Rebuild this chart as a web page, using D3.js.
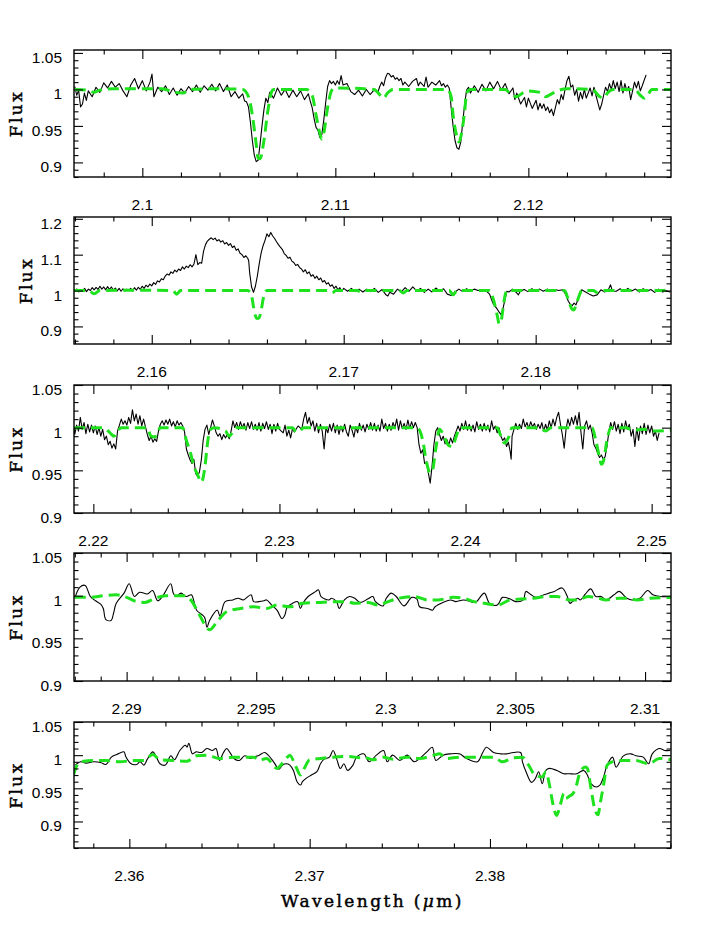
<!DOCTYPE html>
<html>
<head>
<meta charset="utf-8">
<script src="https://cdn.jsdelivr.net/npm/d3@7"></script>
<style>
  body { margin: 0; background: #fff; }
  svg text { font-family: "Liberation Sans", Arial, sans-serif; }
  .ax text { font-size: 15.5px; fill: #000; }
  .ttl { font-family: "DejaVu Serif", "Liberation Serif", serif !important; font-size: 17px; letter-spacing: 2.4px; stroke: #000; stroke-width: 0.45px; }
</style>
</head>
<body>
<svg id="chart" width="708" height="944"></svg>
<script>
// ---- panel 1 : 2.096 - 2.127 micron
const obs1 = [[2.0965,1.004],[2.0966,0.992],[2.0967,0.999],[2.0968,0.976],[2.0969,0.980],[2.0970,0.995],[2.0971,0.985],[2.0972,0.998],[2.0974,0.990],[2.0976,1.003],[2.0978,0.996],[2.0980,1.009],[2.0982,1.002],[2.0984,1.011],[2.0986,1.003],[2.0988,1.008],[2.0990,0.998],[2.0992,0.990],[2.0994,1.006],[2.0996,1.015],[2.0998,1.001],[2.1000,1.012],[2.1002,0.998],[2.1004,1.010],[2.1005,1.021],[2.1006,0.990],[2.1008,1.003],[2.1010,0.997],[2.1012,1.005],[2.1014,0.993],[2.1016,1.002],[2.1018,0.992],[2.1020,1.001],[2.1022,0.995],[2.1024,1.004],[2.1026,0.997],[2.1028,1.006],[2.1030,0.996],[2.1032,1.005],[2.1034,0.999],[2.1036,1.007],[2.1038,0.998],[2.1040,1.008],[2.1042,0.997],[2.1044,1.006],[2.1046,0.990],[2.1048,0.997],[2.1050,0.988],[2.1052,0.994],[2.1053,0.984],[2.1054,0.983],[2.1055,0.976],[2.1056,0.955],[2.1057,0.930],[2.1058,0.910],[2.1059,0.901],[2.1060,0.903],[2.1061,0.925],[2.1062,0.950],[2.1063,0.972],[2.1064,0.988],[2.1065,0.982],[2.1066,0.996],[2.1068,0.988],[2.1070,1.002],[2.1072,0.992],[2.1074,1.000],[2.1076,0.989],[2.1078,0.999],[2.1080,0.990],[2.1082,0.998],[2.1084,0.986],[2.1086,0.994],[2.1087,0.984],[2.1088,0.975],[2.1089,0.960],[2.1090,0.948],[2.1091,0.944],[2.1092,0.934],[2.1093,0.938],[2.1094,0.958],[2.1095,0.982],[2.1096,1.004],[2.1097,1.012],[2.1098,1.008],[2.1099,1.011],[2.1100,1.006],[2.1101,1.012],[2.1102,1.007],[2.1103,1.019],[2.1104,1.006],[2.1106,1.008],[2.1108,0.997],[2.1110,0.993],[2.1112,0.999],[2.1114,0.991],[2.1116,1.000],[2.1118,0.993],[2.1120,0.999],[2.1122,0.996],[2.1123,1.004],[2.1124,1.010],[2.1125,1.005],[2.1126,1.016],[2.1127,1.022],[2.1128,1.021],[2.1129,1.017],[2.1130,1.019],[2.1131,1.014],[2.1132,1.016],[2.1133,1.012],[2.1134,1.015],[2.1135,1.006],[2.1136,1.010],[2.1138,1.004],[2.1140,1.011],[2.1142,1.015],[2.1143,1.005],[2.1144,1.010],[2.1146,1.004],[2.1147,1.017],[2.1148,1.003],[2.1150,1.010],[2.1152,1.006],[2.1154,1.012],[2.1155,1.005],[2.1156,1.008],[2.1157,1.003],[2.1158,1.006],[2.1159,1.002],[2.1160,0.975],[2.1161,0.950],[2.1162,0.930],[2.1163,0.920],[2.1164,0.918],[2.1165,0.928],[2.1166,0.955],[2.1167,0.980],[2.1168,0.999],[2.1169,1.003],[2.1170,0.995],[2.1172,1.005],[2.1174,0.996],[2.1176,1.007],[2.1178,0.998],[2.1180,1.010],[2.1182,1.001],[2.1184,1.011],[2.1186,0.999],[2.1188,1.008],[2.1190,0.994],[2.1192,1.002],[2.1193,0.986],[2.1194,0.995],[2.1196,0.980],[2.1198,0.989],[2.1199,0.976],[2.1200,0.988],[2.1202,0.974],[2.1204,0.985],[2.1205,0.972],[2.1206,0.981],[2.1207,0.974],[2.1208,0.980],[2.1209,0.971],[2.1210,0.976],[2.1211,0.968],[2.1212,0.973],[2.1213,0.964],[2.1214,0.975],[2.1215,0.986],[2.1216,0.980],[2.1217,0.993],[2.1218,0.986],[2.1219,1.000],[2.1220,1.012],[2.1221,1.018],[2.1222,1.003],[2.1223,1.006],[2.1224,0.992],[2.1225,1.000],[2.1226,0.984],[2.1227,0.996],[2.1228,0.987],[2.1229,1.000],[2.1230,0.988],[2.1232,1.002],[2.1233,0.991],[2.1234,1.003],[2.1235,0.992],[2.1236,0.982],[2.1237,0.972],[2.1238,0.980],[2.1239,0.992],[2.1240,1.003],[2.1241,0.997],[2.1242,1.008],[2.1243,1.000],[2.1244,1.012],[2.1245,1.001],[2.1246,1.010],[2.1247,0.997],[2.1248,1.012],[2.1249,0.995],[2.1250,1.008],[2.1251,0.998],[2.1252,1.004],[2.1253,0.986],[2.1254,0.998],[2.1255,1.010],[2.1256,1.002],[2.1257,1.011],[2.1258,0.998],[2.1259,1.005],[2.1261,1.020]];
const model1 = [[2.0965,1.000],[2.0972,0.999],[2.0975,0.996],[2.0978,0.999],[2.0985,1.001],[2.1010,1.001],[2.1017,0.996],[2.1021,0.995],[2.1025,1.000],[2.1040,1.001],[2.1052,1.000],[2.1055,0.990],[2.1057,0.965],[2.1059,0.925],[2.1060,0.906],[2.1061,0.905],[2.1063,0.930],[2.1065,0.970],[2.1067,0.997],[2.1068,1.000],[2.1085,1.000],[2.1088,0.992],[2.1090,0.965],[2.1092,0.940],[2.1093,0.932],[2.1094,0.940],[2.1096,0.975],[2.1098,0.998],[2.1100,1.002],[2.1120,1.000],[2.1124,0.990],[2.1125,0.988],[2.1127,0.995],[2.1130,1.000],[2.1158,1.000],[2.1160,0.990],[2.1161,0.965],[2.1163,0.935],[2.1164,0.928],[2.1165,0.935],[2.1167,0.970],[2.1168,0.995],[2.1170,1.000],[2.1188,1.000],[2.1191,0.993],[2.1194,0.990],[2.1197,0.995],[2.1200,0.998],[2.1206,0.996],[2.1209,0.990],[2.1212,0.994],[2.1216,0.999],[2.1220,1.001],[2.1233,1.000],[2.1237,0.990],[2.1239,0.988],[2.1241,0.995],[2.1244,1.000],[2.1255,1.000],[2.1258,0.992],[2.1260,0.988],[2.1262,0.993],[2.1264,1.000],[2.1274,1.000]];
const xTicks1 = [2.1, 2.11, 2.12];
const yTicks1 = [0.9, 0.95, 1, 1.05];

// ---- panel 2 : 2.156 - 2.187 micron (Br gamma)
const obs2 = [[2.15595,1.000],[2.1561,1.004],[2.1562,0.996],[2.1563,1.003],[2.1564,0.998],[2.1565,1.006],[2.1566,0.997],[2.1567,1.004],[2.1568,1.000],[2.1569,1.008],[2.1570,1.002],[2.1571,1.009],[2.1572,1.003],[2.1573,1.012],[2.1574,1.004],[2.1575,1.010],[2.1576,1.002],[2.1577,1.011],[2.1578,1.003],[2.1579,1.010],[2.1580,1.001],[2.1581,1.007],[2.1582,0.999],[2.1583,1.006],[2.1584,0.998],[2.1585,1.005],[2.1586,0.999],[2.1587,1.004],[2.1588,1.000],[2.1589,1.006],[2.1590,0.999],[2.1591,1.008],[2.1592,1.001],[2.1593,1.009],[2.1594,1.003],[2.1595,1.012],[2.1596,1.006],[2.1597,1.015],[2.1598,1.010],[2.1599,1.018],[2.1600,1.013],[2.1601,1.022],[2.1602,1.017],[2.1603,1.027],[2.1604,1.024],[2.1605,1.033],[2.1606,1.030],[2.1607,1.040],[2.1608,1.046],[2.1609,1.043],[2.1610,1.052],[2.1611,1.048],[2.1612,1.057],[2.1613,1.052],[2.1614,1.060],[2.1615,1.056],[2.1616,1.066],[2.1617,1.060],[2.1618,1.068],[2.1619,1.064],[2.1620,1.072],[2.1621,1.066],[2.1622,1.074],[2.1623,1.100],[2.1624,1.072],[2.1625,1.078],[2.1626,1.076],[2.1627,1.110],[2.1628,1.128],[2.1629,1.138],[2.1630,1.143],[2.1631,1.147],[2.1632,1.142],[2.1633,1.146],[2.1634,1.138],[2.1635,1.142],[2.1636,1.135],[2.1637,1.139],[2.1638,1.130],[2.1639,1.134],[2.1640,1.126],[2.1641,1.131],[2.1642,1.120],[2.1643,1.124],[2.1644,1.112],[2.1645,1.116],[2.1646,1.104],[2.1647,1.100],[2.1648,1.092],[2.1649,1.097],[2.1650,1.090],[2.16505,1.083],[2.1651,1.050],[2.1652,1.010],[2.1653,0.995],[2.1654,1.012],[2.1655,1.040],[2.1656,1.075],[2.1657,1.105],[2.1658,1.125],[2.1659,1.140],[2.1660,1.158],[2.1661,1.150],[2.1662,1.162],[2.1663,1.152],[2.1664,1.145],[2.1665,1.136],[2.1666,1.128],[2.1667,1.121],[2.1668,1.115],[2.1669,1.103],[2.1670,1.098],[2.1671,1.090],[2.1672,1.093],[2.1673,1.082],[2.1674,1.078],[2.1675,1.070],[2.1676,1.073],[2.1677,1.064],[2.1678,1.060],[2.1679,1.052],[2.1680,1.058],[2.1681,1.047],[2.1682,1.052],[2.1683,1.040],[2.1684,1.044],[2.1685,1.034],[2.1686,1.040],[2.1687,1.030],[2.1688,1.035],[2.1689,1.024],[2.1690,1.028],[2.1691,1.018],[2.1692,1.022],[2.1693,1.012],[2.1694,1.016],[2.1695,1.006],[2.1696,1.012],[2.1697,1.002],[2.1698,1.008],[2.1699,0.998],[2.1700,1.006],[2.1702,0.998],[2.1704,1.006],[2.1706,0.997],[2.1708,1.004],[2.1710,0.996],[2.1712,1.004],[2.1714,0.997],[2.1716,1.006],[2.1718,0.995],[2.1720,1.003],[2.1722,0.988],[2.1723,0.985],[2.1724,0.995],[2.1726,0.990],[2.1728,1.004],[2.1730,0.996],[2.1732,1.008],[2.1734,0.998],[2.1736,1.010],[2.1738,0.999],[2.1740,1.006],[2.1742,0.995],[2.1744,1.004],[2.1746,0.996],[2.1748,1.007],[2.1750,0.998],[2.1752,1.005],[2.1754,0.990],[2.1756,0.986],[2.1758,0.996],[2.1760,1.004],[2.1762,0.997],[2.1764,1.005],[2.1766,0.998],[2.1768,1.004],[2.1770,1.000],[2.1772,1.003],[2.1774,1.000],[2.1776,0.990],[2.1777,0.975],[2.1778,0.962],[2.1779,0.955],[2.1780,0.948],[2.1781,0.940],[2.1782,0.933],[2.1783,0.950],[2.1784,0.975],[2.1785,0.998],[2.1786,0.996],[2.1788,1.004],[2.1790,0.994],[2.1791,0.988],[2.1792,0.998],[2.1794,1.003],[2.1796,0.997],[2.1798,1.005],[2.1800,0.999],[2.1802,1.004],[2.1804,0.998],[2.1806,1.004],[2.1808,0.999],[2.1810,1.003],[2.1812,1.000],[2.1814,1.002],[2.1815,0.995],[2.1816,0.985],[2.1817,0.970],[2.1818,0.962],[2.1819,0.958],[2.1820,0.965],[2.1821,0.960],[2.1822,0.975],[2.1823,0.995],[2.1824,1.002],[2.1826,0.996],[2.1828,0.990],[2.1830,0.985],[2.1832,0.988],[2.1834,1.002],[2.1836,0.996],[2.1838,1.004],[2.1839,1.016],[2.1840,0.998],[2.1842,0.998],[2.1844,1.005],[2.1846,0.997],[2.1848,1.006],[2.1850,0.999],[2.1852,1.004],[2.1854,0.996],[2.1856,1.005],[2.1858,0.998],[2.1860,1.003],[2.1862,0.995],[2.1864,1.004],[2.1866,0.996],[2.1868,0.999],[2.1870,0.996]];
const model2 = [[2.15595,1.000],[2.1567,1.000],[2.1570,0.991],[2.1573,1.000],[2.1600,1.001],[2.1611,1.000],[2.1613,0.990],[2.1615,1.000],[2.1650,1.000],[2.1652,0.985],[2.1653,0.955],[2.1654,0.930],[2.1655,0.922],[2.1656,0.925],[2.1657,0.945],[2.1658,0.975],[2.1659,0.995],[2.1660,1.000],[2.1692,1.000],[2.1694,0.994],[2.1696,1.000],[2.1707,1.000],[2.1709,0.996],[2.1711,1.000],[2.1729,1.000],[2.1731,0.993],[2.1733,1.000],[2.1755,1.000],[2.1757,0.988],[2.1759,1.000],[2.1776,1.000],[2.1778,0.975],[2.1780,0.930],[2.1781,0.907],[2.1782,0.915],[2.1783,0.950],[2.1784,0.985],[2.1785,1.000],[2.1815,1.000],[2.1817,0.975],[2.1819,0.948],[2.1820,0.946],[2.1821,0.960],[2.1823,0.990],[2.1824,1.000],[2.1830,1.000],[2.1832,0.995],[2.1834,1.000],[2.1870,1.000]];
const xTicks2 = [2.16, 2.17, 2.18];
const yTicks2 = [0.9, 1, 1.1, 1.2];

// ---- panel 3 : 2.219 - 2.251 micron
const obs3 = [[2.21896,1.000],[2.2190,0.992],[2.2191,1.003],[2.2192,0.996],[2.2193,1.012],[2.2194,0.998],[2.2195,1.006],[2.2196,0.993],[2.2197,1.004],[2.2198,0.995],[2.2199,1.003],[2.2200,0.994],[2.2201,1.002],[2.2202,0.992],[2.2203,1.000],[2.2204,0.990],[2.2205,0.998],[2.2206,0.986],[2.2207,0.990],[2.2208,0.980],[2.2209,0.984],[2.2210,0.976],[2.2211,0.981],[2.2212,0.975],[2.2213,0.996],[2.2214,1.003],[2.2215,1.010],[2.2216,1.004],[2.2217,1.008],[2.2218,1.003],[2.2219,1.012],[2.2220,1.005],[2.2221,1.021],[2.2222,1.008],[2.2223,1.016],[2.2224,1.004],[2.2225,1.014],[2.2226,1.002],[2.2227,1.010],[2.2228,1.001],[2.2229,0.992],[2.2230,0.985],[2.2231,0.990],[2.2232,0.983],[2.2233,0.987],[2.2234,0.984],[2.2235,0.996],[2.2236,1.004],[2.2237,1.008],[2.2238,1.003],[2.2239,1.009],[2.2240,1.004],[2.2241,1.010],[2.2242,1.002],[2.2243,1.007],[2.2244,1.001],[2.2245,1.008],[2.2246,1.003],[2.2247,1.006],[2.2248,1.002],[2.2249,0.995],[2.2250,0.975],[2.2251,0.968],[2.2252,0.962],[2.2253,0.958],[2.2254,0.963],[2.2255,0.946],[2.2256,0.943],[2.2257,0.948],[2.2258,0.962],[2.2259,0.985],[2.2260,0.998],[2.2261,1.003],[2.2262,0.992],[2.2263,1.000],[2.2264,1.009],[2.2265,1.002],[2.2266,0.994],[2.2267,0.990],[2.2268,0.993],[2.2269,0.986],[2.2270,0.992],[2.2271,0.988],[2.2272,0.992],[2.2273,0.987],[2.2274,0.996],[2.2275,1.008],[2.2276,1.000],[2.2277,1.006],[2.2278,0.998],[2.2279,1.007],[2.2280,1.000],[2.2281,1.005],[2.2282,0.997],[2.2283,1.006],[2.2284,0.999],[2.2285,1.007],[2.2286,0.998],[2.2287,1.004],[2.2288,0.997],[2.2289,1.006],[2.2290,0.996],[2.2291,1.005],[2.2292,0.999],[2.2293,1.007],[2.2294,0.998],[2.2295,1.004],[2.2296,0.993],[2.2297,1.004],[2.2298,0.996],[2.2299,1.005],[2.2300,0.998],[2.2302,0.994],[2.2303,1.003],[2.2304,0.990],[2.2305,0.997],[2.2306,0.988],[2.2307,0.999],[2.2308,0.995],[2.2310,1.002],[2.2312,0.998],[2.2313,1.010],[2.2314,1.018],[2.2315,1.005],[2.2316,1.012],[2.2317,1.002],[2.2318,1.008],[2.2319,0.996],[2.2320,1.005],[2.2321,0.994],[2.2322,1.004],[2.2323,0.996],[2.2324,0.975],[2.2325,1.000],[2.2326,0.994],[2.2327,1.004],[2.2328,0.996],[2.2329,1.005],[2.2330,0.994],[2.2331,1.003],[2.2332,0.992],[2.2333,1.002],[2.2334,0.995],[2.2335,1.004],[2.2336,0.995],[2.2337,0.990],[2.2338,1.003],[2.2339,0.997],[2.2340,0.989],[2.2341,1.001],[2.2342,0.994],[2.2343,1.005],[2.2344,0.997],[2.2345,1.003],[2.2346,0.995],[2.2347,1.004],[2.2348,0.998],[2.2349,1.006],[2.2350,0.997],[2.2351,1.005],[2.2352,0.996],[2.2353,1.003],[2.2354,0.996],[2.2355,1.010],[2.2356,0.999],[2.2357,1.005],[2.2358,0.996],[2.2359,1.004],[2.2360,0.997],[2.2361,1.006],[2.2362,1.000],[2.2363,1.010],[2.2364,0.997],[2.2365,1.008],[2.2366,0.999],[2.2367,1.005],[2.2368,0.998],[2.2369,1.009],[2.2370,0.999],[2.2371,1.007],[2.2372,1.000],[2.2373,1.006],[2.2374,1.000],[2.23745,0.990],[2.2375,0.980],[2.2376,0.970],[2.2377,0.974],[2.2378,0.958],[2.2379,0.960],[2.2380,0.947],[2.2381,0.935],[2.2382,0.955],[2.2383,0.980],[2.2384,0.996],[2.2385,1.000],[2.2386,0.992],[2.2387,0.985],[2.2388,0.990],[2.2389,0.981],[2.2390,0.986],[2.2391,0.980],[2.2392,0.988],[2.2393,0.982],[2.2394,0.990],[2.2395,0.996],[2.2396,1.002],[2.2397,0.996],[2.2398,1.005],[2.2399,0.998],[2.2400,1.008],[2.2401,0.997],[2.2402,1.004],[2.2403,0.996],[2.2404,1.003],[2.2405,0.995],[2.2406,1.007],[2.2407,0.998],[2.2408,1.004],[2.2409,0.996],[2.2410,1.005],[2.2411,0.997],[2.2412,1.003],[2.2413,0.995],[2.2414,1.008],[2.2415,0.998],[2.2416,1.002],[2.2417,0.994],[2.2418,1.000],[2.2419,0.990],[2.2420,0.985],[2.2421,0.988],[2.2422,0.978],[2.2423,0.983],[2.2424,0.972],[2.24245,0.963],[2.2425,0.990],[2.2426,0.998],[2.2427,1.005],[2.2428,0.998],[2.2429,1.004],[2.2430,0.999],[2.2431,1.010],[2.2432,1.001],[2.2433,1.006],[2.2434,0.999],[2.2435,1.007],[2.2436,1.001],[2.2437,1.005],[2.2438,0.998],[2.2439,1.004],[2.2440,0.999],[2.2441,1.006],[2.2442,0.996],[2.2443,1.004],[2.2444,0.997],[2.2445,1.008],[2.2446,1.000],[2.2447,1.010],[2.2448,1.002],[2.2449,1.012],[2.2450,1.018],[2.2451,1.004],[2.2452,0.992],[2.2453,0.976],[2.2454,0.998],[2.2455,1.010],[2.2456,1.002],[2.2457,1.012],[2.2458,1.004],[2.2459,1.014],[2.2460,1.003],[2.2461,1.018],[2.2462,0.995],[2.2463,0.975],[2.2464,1.002],[2.2465,1.008],[2.2466,0.998],[2.2467,1.003],[2.2468,0.994],[2.2469,0.980],[2.2470,0.976],[2.2471,0.970],[2.2472,0.965],[2.2473,0.968],[2.2474,0.963],[2.2475,0.966],[2.2476,0.978],[2.2477,0.995],[2.2478,1.006],[2.2479,0.998],[2.2480,1.007],[2.2481,0.996],[2.2482,1.004],[2.2483,0.993],[2.2484,1.005],[2.2485,0.995],[2.2486,1.008],[2.2487,0.998],[2.2488,1.004],[2.2489,0.990],[2.2490,0.998],[2.2491,0.978],[2.2492,1.000],[2.2493,0.985],[2.2494,1.002],[2.2495,0.993],[2.2496,1.005],[2.2497,0.992],[2.2498,1.003],[2.2499,0.994],[2.2500,1.002],[2.2501,0.990],[2.2502,0.996],[2.2503,0.985],[2.2504,0.994]];
const model3 = [[2.21896,1.000],[2.2205,1.000],[2.2209,0.994],[2.2211,0.990],[2.2213,0.996],[2.2215,1.000],[2.2229,1.000],[2.2231,0.990],[2.2233,0.989],[2.2235,0.997],[2.2236,1.000],[2.2248,1.000],[2.2250,0.985],[2.2252,0.972],[2.2254,0.955],[2.2256,0.945],[2.2258,0.936],[2.2260,0.955],[2.2261,0.975],[2.2262,0.992],[2.2263,0.998],[2.2265,1.000],[2.2271,0.996],[2.2273,0.990],[2.2275,0.995],[2.2277,1.000],[2.2307,1.000],[2.2309,0.995],[2.2311,0.996],[2.2313,1.000],[2.2374,1.000],[2.2377,0.985],[2.2379,0.960],[2.2381,0.947],[2.2382,0.948],[2.2384,0.975],[2.2386,0.998],[2.2388,0.992],[2.2391,0.979],[2.2393,0.978],[2.2395,0.990],[2.2397,1.000],[2.2417,1.000],[2.2419,0.990],[2.2421,0.982],[2.2423,0.988],[2.2425,1.000],[2.2440,1.000],[2.2443,0.996],[2.2446,1.000],[2.2468,1.000],[2.2470,0.985],[2.2472,0.965],[2.2473,0.957],[2.2474,0.960],[2.2476,0.985],[2.2478,1.000],[2.2486,1.000],[2.2490,0.997],[2.2496,0.998],[2.2500,0.996],[2.2511,0.997]];
const xTicks3 = [2.22, 2.23, 2.24, 2.25];
const yTicks3 = [0.9, 0.95, 1, 1.05];

// ---- panel 4 : 2.288 - 2.311 micron (CO 2-0)
const obs4 = [[2.2880,0.997],[2.2882,1.010],[2.2884,1.012],[2.2886,0.999],[2.2888,0.994],[2.2890,0.990],[2.2891,0.985],[2.2892,0.972],[2.2894,0.971],[2.2895,0.980],[2.2896,0.991],[2.2899,1.003],[2.2901,1.014],[2.2903,0.999],[2.2905,1.004],[2.2908,1.002],[2.2910,1.006],[2.2912,0.994],[2.2914,1.000],[2.2917,1.014],[2.2918,1.003],[2.2919,0.999],[2.2921,1.003],[2.2923,0.999],[2.2925,1.001],[2.2926,0.993],[2.2927,0.983],[2.2930,0.975],[2.2931,0.963],[2.2932,0.971],[2.2935,0.983],[2.2936,0.976],[2.2938,0.993],[2.2941,0.995],[2.2943,0.997],[2.2945,0.995],[2.2948,1.001],[2.2949,0.993],[2.2951,0.993],[2.2953,0.994],[2.2954,0.995],[2.2956,0.989],[2.2958,0.983],[2.2960,0.973],[2.2961,0.977],[2.2962,0.987],[2.2964,0.991],[2.2966,0.993],[2.2967,0.985],[2.2968,0.991],[2.2970,0.999],[2.2973,1.005],[2.2974,1.007],[2.2975,0.999],[2.2978,0.995],[2.2979,0.997],[2.2981,0.993],[2.2982,0.985],[2.2984,0.995],[2.2986,0.999],[2.2988,0.997],[2.2990,0.992],[2.2993,0.996],[2.2995,0.999],[2.2996,0.993],[2.2999,0.988],[2.3000,0.996],[2.3002,1.003],[2.3004,0.999],[2.3007,0.988],[2.3010,0.998],[2.3012,0.996],[2.3013,0.987],[2.3016,0.985],[2.3018,0.983],[2.3019,0.987],[2.3022,0.992],[2.3025,0.995],[2.3027,0.993],[2.3030,0.995],[2.3034,0.992],[2.3035,0.993],[2.3038,1.003],[2.3040,0.991],[2.3043,0.989],[2.3045,0.998],[2.3048,0.996],[2.3050,0.993],[2.3053,0.995],[2.3054,1.005],[2.3056,1.001],[2.3058,0.998],[2.3061,1.001],[2.3063,1.003],[2.3065,1.005],[2.3068,1.009],[2.3070,0.999],[2.3071,0.991],[2.3072,0.993],[2.3074,0.997],[2.3075,0.995],[2.3077,1.002],[2.3079,1.008],[2.3081,0.999],[2.3083,0.999],[2.3085,0.995],[2.3088,1.001],[2.3090,1.005],[2.3093,0.997],[2.3095,0.995],[2.3098,0.997],[2.3101,1.006],[2.3103,1.001],[2.3106,0.999],[2.3110,0.999]];
const model4 = [[2.2880,0.998],[2.2886,0.998],[2.2891,1.000],[2.2896,1.001],[2.2900,0.998],[2.2904,0.993],[2.2907,0.992],[2.2911,0.997],[2.2915,1.000],[2.2922,1.000],[2.2925,0.994],[2.2928,0.978],[2.2932,0.960],[2.2935,0.970],[2.2939,0.982],[2.2944,0.985],[2.2949,0.987],[2.2954,0.985],[2.2958,0.989],[2.2963,0.987],[2.2968,0.991],[2.2974,0.992],[2.2980,0.993],[2.2985,0.993],[2.2988,0.991],[2.2993,0.992],[2.2997,0.989],[2.3000,0.992],[2.3005,0.997],[2.3011,0.999],[2.3016,0.995],[2.3020,0.995],[2.3026,0.998],[2.3030,0.997],[2.3034,0.993],[2.3038,0.991],[2.3043,0.989],[2.3048,0.995],[2.3052,0.996],[2.3057,0.997],[2.3062,0.999],[2.3066,0.999],[2.3071,0.995],[2.3074,0.995],[2.3078,0.999],[2.3082,0.997],[2.3085,0.995],[2.3090,0.997],[2.3093,0.997],[2.3097,0.995],[2.3102,0.997],[2.3111,0.998]];
const xTicks4 = [2.29, 2.295, 2.3, 2.305, 2.31];
const yTicks4 = [0.9, 0.95, 1, 1.05];

// ---- panel 5 : 2.357 - 2.390 micron (CO 3-1)
const obs5 = [[2.3570,0.985],[2.3573,0.990],[2.3576,0.988],[2.3580,0.990],[2.3584,0.989],[2.3587,0.986],[2.3590,0.997],[2.3593,1.001],[2.3597,1.005],[2.3598,0.998],[2.3601,0.987],[2.3604,0.986],[2.3606,0.990],[2.3608,0.985],[2.3610,0.994],[2.3613,1.005],[2.3615,0.997],[2.3617,0.987],[2.3620,0.985],[2.3623,0.999],[2.3625,0.993],[2.3628,1.007],[2.3631,1.015],[2.3632,1.012],[2.3633,1.018],[2.3635,1.002],[2.3637,1.005],[2.3640,1.004],[2.3643,1.010],[2.3646,1.007],[2.3648,1.010],[2.3650,0.992],[2.3652,1.003],[2.3654,1.010],[2.3656,1.003],[2.3658,0.995],[2.3661,0.992],[2.3664,0.999],[2.3667,0.995],[2.3670,0.998],[2.3672,1.000],[2.3675,1.004],[2.3677,1.000],[2.3680,0.990],[2.3683,0.979],[2.3685,0.985],[2.3687,0.987],[2.3689,0.985],[2.3691,0.977],[2.3693,0.960],[2.3695,0.955],[2.3696,0.960],[2.3698,0.965],[2.3701,0.970],[2.3704,0.975],[2.3706,0.987],[2.3708,0.994],[2.3711,0.997],[2.3713,1.007],[2.3715,0.994],[2.3717,0.980],[2.3719,0.987],[2.3721,0.977],[2.3724,0.985],[2.3726,0.997],[2.3730,1.002],[2.3733,0.990],[2.3737,1.000],[2.3741,1.007],[2.3743,0.990],[2.3746,1.000],[2.3750,0.992],[2.3754,1.000],[2.3758,0.990],[2.3761,0.995],[2.3765,1.005],[2.3768,1.012],[2.3770,0.992],[2.3774,1.000],[2.3778,1.002],[2.3783,1.002],[2.3787,0.995],[2.3793,0.990],[2.3796,1.004],[2.3798,1.012],[2.3802,1.004],[2.3806,1.002],[2.3809,1.002],[2.3813,1.004],[2.3817,1.004],[2.3818,0.990],[2.3820,0.975],[2.3823,0.959],[2.3825,0.964],[2.3827,0.975],[2.3829,0.957],[2.3831,0.977],[2.3833,0.980],[2.3837,0.977],[2.3841,0.972],[2.3844,0.972],[2.3848,0.972],[2.3852,0.977],[2.3854,0.970],[2.3856,0.957],[2.3859,0.952],[2.3861,0.955],[2.3863,0.967],[2.3865,0.985],[2.3868,0.997],[2.3870,0.982],[2.3874,0.999],[2.3878,1.002],[2.3881,0.999],[2.3885,0.997],[2.3888,0.987],[2.3890,1.002],[2.3894,1.010],[2.3897,1.007],[2.3900,1.007]];
const model5 = [[2.3569,0.970],[2.3571,0.985],[2.3573,0.990],[2.3580,0.992],[2.3587,0.992],[2.3595,0.990],[2.3602,0.992],[2.3608,0.992],[2.3613,1.001],[2.3617,0.993],[2.3624,0.992],[2.3632,0.991],[2.3637,0.999],[2.3643,1.000],[2.3650,0.995],[2.3658,0.997],[2.3669,0.997],[2.3672,0.992],[2.3676,0.995],[2.3682,0.980],[2.3684,0.985],[2.3687,0.995],[2.3689,1.000],[2.3692,0.985],[2.3695,0.970],[2.3697,0.980],[2.3700,0.993],[2.3706,0.995],[2.3713,0.997],[2.3722,0.998],[2.3728,0.996],[2.3730,0.997],[2.3735,0.993],[2.3741,0.997],[2.3746,0.994],[2.3754,0.997],[2.3761,0.995],[2.3769,1.000],[2.3772,1.002],[2.3776,0.995],[2.3783,0.997],[2.3793,0.997],[2.3802,0.997],[2.3807,0.990],[2.3813,0.996],[2.3818,0.997],[2.3821,0.987],[2.3825,0.970],[2.3829,0.967],[2.3831,0.975],[2.3833,0.955],[2.3835,0.925],[2.3837,0.909],[2.3839,0.925],[2.3841,0.942],[2.3842,0.935],[2.3844,0.938],[2.3846,0.942],[2.3848,0.955],[2.3850,0.975],[2.3853,0.982],[2.3854,0.980],[2.3856,0.950],[2.3858,0.920],[2.3860,0.910],[2.3861,0.925],[2.3863,0.955],[2.3865,0.985],[2.3868,0.990],[2.3874,0.992],[2.3881,0.992],[2.3886,0.988],[2.3888,0.987],[2.3894,0.995],[2.3901,0.993]];
const xTicks5 = [2.36, 2.37, 2.38];
const yTicks5 = [0.9, 0.95, 1, 1.05];

const svg = d3.select("#chart");
const X0 = 74, X1 = 671;

// one entry per panel: data, domains and minor tick steps
const panels = [
  {obs: obs1, model: model1, xd: [2.09646, 2.12739], yd: [0.88, 1.054], xt: xTicks1, yt: yTicks1, xm: 0.002, ym: 0.01, top: 50, bot: 177, fluxX: 21.5, smooth: false},
  {obs: obs2, model: model2, xd: [2.15595, 2.18705], yd: [0.851, 1.205], xt: xTicks2, yt: yTicks2, xm: 0.002, ym: 0.02, top: 217, bot: 344, fluxX: 31.5, smooth: false},
  {obs: obs3, model: model3, xd: [2.21896, 2.25104], yd: [0.9, 1.05], xt: xTicks3, yt: yTicks3, xm: 0.002, ym: 0.01, top: 385, bot: 513, fluxX: 21.5, smooth: false},
  {obs: obs4, model: model4, xd: [2.28797, 2.311], yd: [0.9, 1.05], xt: xTicks4, yt: yTicks4, xm: 0.001, ym: 0.01, top: 553, bot: 681, fluxX: 21.5, smooth: true},
  {obs: obs5, model: model5, xd: [2.35693, 2.39004], yd: [0.86, 1.05], xt: xTicks5, yt: yTicks5, xm: 0.002, ym: 0.01, top: 722, bot: 848, fluxX: 21.5, smooth: true}
];

function minorTicks(dom, step, major) {
  return d3.range(Math.ceil(dom[0] / step - 1e-6) * step, dom[1], step)
    .filter(v => !major.some(m => Math.abs(m - v) < step / 10));
}

panels.forEach((p, i) => {
  const x = d3.scaleLinear().domain(p.xd).range([X0, X1]);
  const y = d3.scaleLinear().domain(p.yd).range([p.bot, p.top]);
  const g = svg.append("g");

  g.append("clipPath").attr("id", "clip" + i)
    .append("rect").attr("x", X0).attr("y", p.top).attr("width", X1 - X0).attr("height", p.bot - p.top);

  const line = d3.line().x(d => x(d[0])).y(d => y(d[1]));
  if (p.smooth) line.curve(d3.curveCatmullRom.alpha(0.5));
  g.append("path").datum(p.obs)
    .attr("clip-path", `url(#clip${i})`)
    .attr("d", line).attr("fill", "none")
    .attr("stroke", "#000").attr("stroke-width", 1.1).attr("stroke-linejoin", "round");
  g.append("path").datum(p.model)
    .attr("clip-path", `url(#clip${i})`)
    .attr("d", d3.line().curve(d3.curveMonotoneX).x(d => x(d[0])).y(d => y(d[1])))
    .attr("fill", "none")
    .attr("stroke", "#1ee21e").attr("stroke-width", 3).attr("stroke-dasharray", "11,6");

  const xMin = minorTicks(p.xd, p.xm, p.xt);
  const yMin = minorTicks(p.yd, p.ym, p.yt);

  // ticks on all four sides, pointing inwards
  const sides = [
    [d3.axisBottom, x, p.xt, xMin, `translate(0,${p.bot})`],
    [d3.axisTop, x, p.xt, xMin, `translate(0,${p.top})`],
    [d3.axisLeft, y, p.yt, yMin, `translate(${X0},0)`],
    [d3.axisRight, y, p.yt, yMin, `translate(${X1},0)`]
  ];
  sides.forEach(([ax, sc, major, minor, tr]) => {
    g.append("g").attr("class", "ax").attr("transform", tr)
      .call(ax(sc).tickValues(minor).tickSize(-4.5).tickFormat(""))
      .call(s => s.select(".domain").remove());
    g.append("g").attr("class", "ax").attr("transform", tr)
      .call(ax(sc).tickValues(major).tickSize(-9).tickFormat(""))
      .call(s => s.select(".domain").remove());
  });
  g.selectAll(".ax line").attr("stroke", "#000").attr("stroke-width", 1.1);

  // tick labels
  g.append("g").attr("class", "ax").selectAll("text").data(p.yt).join("text")
    .attr("x", 62).attr("y", d => y(d) + 10)
    .attr("text-anchor", "end").text(d => String(d));
  g.append("g").attr("class", "ax").selectAll("text").data(p.xt).join("text")
    .attr("x", d => x(d)).attr("y", p.bot + 33)
    .attr("text-anchor", "middle").text(d => String(d));

  g.append("rect").attr("x", X0).attr("y", p.top)
    .attr("width", X1 - X0).attr("height", p.bot - p.top)
    .attr("fill", "none").attr("stroke", "#000").attr("stroke-width", 1.4);

  g.append("text").attr("class", "ttl")
    .attr("transform", `translate(${p.fluxX},${(p.top + p.bot) / 2}) rotate(-90)`)
    .attr("text-anchor", "middle").text("Flux");
});

const xl = svg.append("text").attr("class", "ttl")
  .attr("x", (X0 + X1) / 2).attr("y", 907).attr("text-anchor", "middle");
xl.append("tspan").text("Wavelength (");
xl.append("tspan").attr("font-style", "italic").text("μ");
xl.append("tspan").text("m)");
</script>
</body>
</html>
